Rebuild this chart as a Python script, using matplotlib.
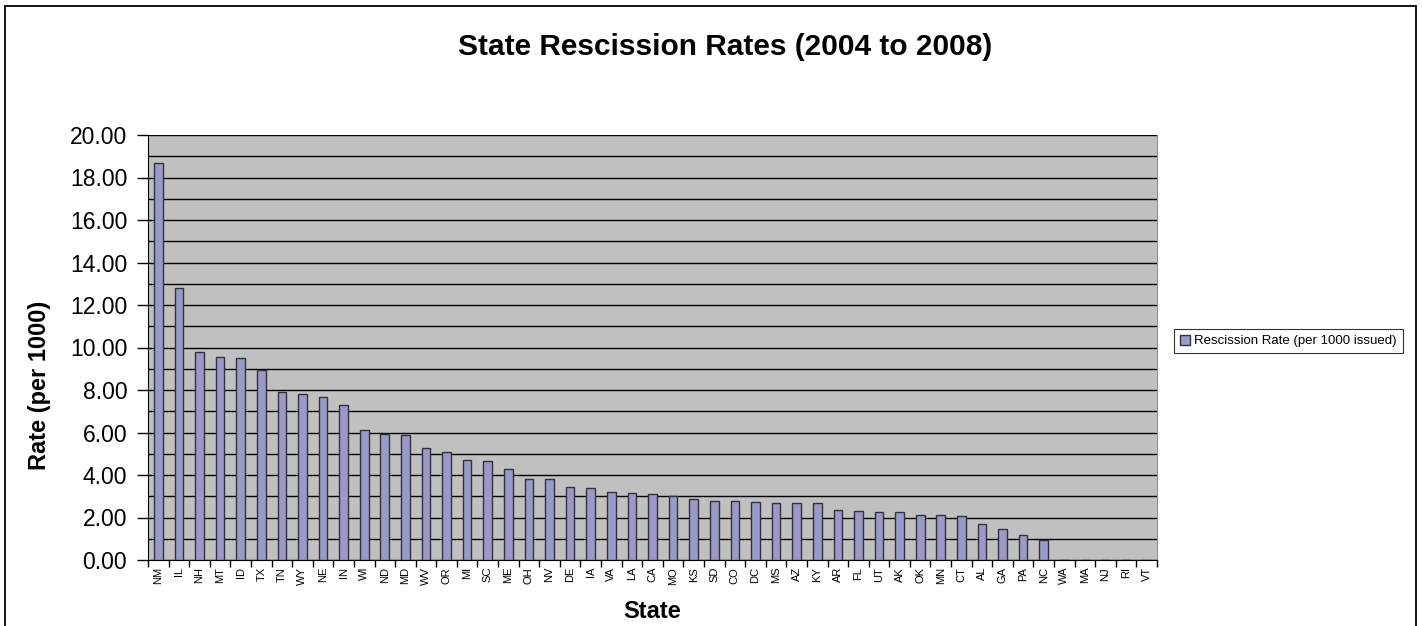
import matplotlib
matplotlib.use("Agg")
import matplotlib.pyplot as plt
from matplotlib.patches import Rectangle
from matplotlib.ticker import MultipleLocator, FixedLocator, FormatStrFormatter

plt.rcParams['font.family'] = ['Liberation Sans', 'DejaVu Sans']

states = ["NM", "IL", "NH", "MT", "ID", "TX", "TN", "WY", "NE", "IN",
          "WI", "ND", "MD", "WV", "OR", "MI", "SC", "ME", "OH", "NV",
          "DE", "IA", "VA", "LA", "CA", "MO", "KS", "SD", "CO", "DC",
          "MS", "AZ", "KY", "AR", "FL", "UT", "AK", "OK", "MN", "CT",
          "AL", "GA", "PA", "NC", "WA", "MA", "NJ", "RI", "VT"]
rates = [18.67, 12.81, 9.80, 9.54, 9.51, 8.94, 7.92, 7.81, 7.67, 7.28,
         6.12, 5.93, 5.87, 5.29, 5.08, 4.69, 4.68, 4.27, 3.80, 3.80,
         3.45, 3.40, 3.18, 3.14, 3.12, 3.03, 2.89, 2.79, 2.79, 2.75,
         2.70, 2.70, 2.70, 2.37, 2.32, 2.27, 2.24, 2.13, 2.12, 2.05,
         1.71, 1.46, 1.16, 0.96, 0.02, 0.0, 0.0, 0.0, 0.0]
series_name = "Rescission Rate (per 1000 issued)"
title = "State Rescission Rates (2004 to 2008)"

W, H = 1422, 626
fig = plt.figure(figsize=(W / 100, H / 100), dpi=100)
fig.patch.set_facecolor("white")

left, right, top, bottom = 148, 1157, 135, 560
ax = fig.add_axes([left / W, 1 - bottom / H, (right - left) / W, (bottom - top) / H])
ax.set_facecolor("#C0C0C0")

x = list(range(len(states)))
ax.bar(x, rates, width=0.42, color="#9999CC", edgecolor="#333333", linewidth=1.0,
       label=series_name, zorder=3)

ax.set_xlim(-0.5, len(states) - 0.5)
ax.set_ylim(0, 20)

# y axis
ax.yaxis.set_major_locator(MultipleLocator(2))
ax.yaxis.set_minor_locator(MultipleLocator(1))
ax.yaxis.set_major_formatter(FormatStrFormatter("%.2f"))
ax.tick_params(axis="y", which="major", length=8, width=1, pad=7, labelsize=16.5, direction="out")
ax.tick_params(axis="y", which="minor", length=0)
ax.grid(axis="y", which="both", color="black", linewidth=1.0, zorder=1)
ax.set_axisbelow(True)

# x axis: labels centered, tick marks between categories
ax.set_xticks(x)
ax.set_xticklabels(states, rotation=90, fontsize=8)
ax.xaxis.set_minor_locator(FixedLocator([i - 0.5 for i in range(len(states) + 1)]))
ax.tick_params(axis="x", which="major", length=0, pad=5)
ax.tick_params(axis="x", which="minor", length=5, width=1, direction="out")

ax.spines["top"].set_visible(False)
ax.spines["right"].set_color("#909090")
ax.spines["left"].set_color("black")
ax.spines["bottom"].set_color("black")

ax.set_ylabel("Rate (per 1000)", fontsize=17, fontweight="bold")
ax.yaxis.set_label_coords((40 - left) / (right - left), (bottom - 385) / (bottom - top))
ax.set_xlabel("State", fontsize=17, fontweight="bold")
ax.xaxis.set_label_coords(0.5, -(611 - bottom) / (bottom - top))
ax.xaxis.label.set_va("center")
ax.yaxis.label.set_va("center")

fig.text(725 / W, 1 - 47 / H, title, fontsize=21.5, fontweight="bold",
         ha="center", va="center")

leg = fig.legend(loc="center left", bbox_to_anchor=(1174 / W, 1 - 341 / H),
                 fontsize=9.5, frameon=True, fancybox=False, edgecolor="black",
                 handlelength=0.8, handleheight=0.8, handletextpad=0.3,
                 borderpad=0.45, borderaxespad=0)
leg.get_frame().set_linewidth(0.8)

# outer chart border
fig.patches.append(Rectangle((5 / W, -0.02), (1416 - 5) / W, 1 - 6 / H + 0.02,
                             transform=fig.transFigure, fill=False,
                             edgecolor="black", linewidth=1.3))

fig.savefig("out.png", dpi=100)
